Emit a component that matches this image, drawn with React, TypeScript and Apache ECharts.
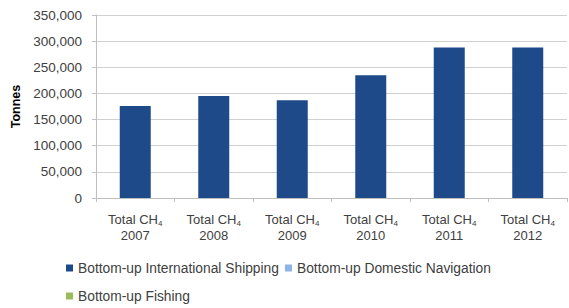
import React, { useEffect, useRef } from "react";
import * as echarts from "echarts";

const years = ["2007", "2008", "2009", "2010", "2011", "2012"];
const intlShipping = [176000, 195000, 187000, 235000, 288000, 288000];
const domesticNav = [0, 0, 0, 0, 0, 0];
const fishing = [0, 0, 0, 0, 0, 0];
const seriesNames = [
  "Bottom-up International Shipping",
  "Bottom-up Domestic Navigation",
  "Bottom-up Fishing",
];

const FONT = "Liberation Sans, Arial, sans-serif";
const TXT = "#404040";

export default function App() {
  const ref = useRef<HTMLDivElement>(null);
  useEffect(() => {
    if (!ref.current) return;
    const chart = echarts.init(ref.current, undefined, { renderer: "svg" });
    const legendText = { fontSize: 13.8, color: TXT, fontFamily: FONT };
    chart.setOption({
      animation: false,
      backgroundColor: "#ffffff",
      textStyle: { fontFamily: FONT },
      grid: { left: 96, right: 2, top: 15, bottom: 110 },
      legend: [
        {
          data: [seriesNames[0], seriesNames[1]],
          left: 66,
          top: 261,
          orient: "horizontal",
          icon: "rect",
          itemWidth: 7,
          itemHeight: 7,
          itemGap: 6,
          padding: 0,
          textStyle: legendText,
        },
        {
          data: [seriesNames[2]],
          left: 66,
          top: 289,
          orient: "horizontal",
          icon: "rect",
          itemWidth: 7,
          itemHeight: 7,
          padding: 0,
          textStyle: legendText,
        },
      ],
      xAxis: {
        type: "category",
        data: years,
        axisLine: { show: true, lineStyle: { color: "#bfbfbf" } },
        axisTick: { show: true, length: 4, lineStyle: { color: "#bfbfbf" } },
        axisLabel: {
          margin: 13,
          interval: 0,
          formatter: (v: string) => `{a|Total CH}{s|4}\n{a|${v}}`,
          rich: {
            a: { fontSize: 13, color: TXT, fontFamily: FONT, lineHeight: 16 },
            s: { fontSize: 8, color: TXT, fontFamily: FONT, lineHeight: 16, verticalAlign: "bottom", padding: [6, 0, 0, 0] },
          },
        },
      },
      yAxis: {
        type: "value",
        min: 0,
        max: 350000,
        interval: 50000,
        name: "Tonnes",
        nameLocation: "middle",
        nameGap: 71,
        nameRotate: 90,
        nameTextStyle: { fontSize: 12.5, fontWeight: "bold", color: "#000000", fontFamily: FONT },
        axisLine: { show: true, lineStyle: { color: "#bfbfbf" } },
        axisTick: { show: true, length: 4, lineStyle: { color: "#bfbfbf" } },
        splitLine: { lineStyle: { color: "#d0d0d0" } },
        axisLabel: {
          margin: 14,
          fontSize: 13.5,
          color: TXT,
          fontFamily: FONT,
          formatter: (v: number) => v.toLocaleString("en-US"),
        },
      },
      series: [
        {
          name: seriesNames[0],
          type: "bar",
          stack: "total",
          data: intlShipping,
          barWidth: 31,
          itemStyle: { color: "#1f4a8a" },
        },
        {
          name: seriesNames[1],
          type: "bar",
          stack: "total",
          data: domesticNav,
          barWidth: 31,
          itemStyle: { color: "#8db4e2" },
        },
        {
          name: seriesNames[2],
          type: "bar",
          stack: "total",
          data: fishing,
          barWidth: 31,
          itemStyle: { color: "#9bbb59" },
        },
      ],
    });
    return () => chart.dispose();
  }, []);
  return (
    <div
      ref={ref}
      style={{ position: "fixed", left: 0, top: 0, width: 569, height: 308 }}
    />
  );
}
